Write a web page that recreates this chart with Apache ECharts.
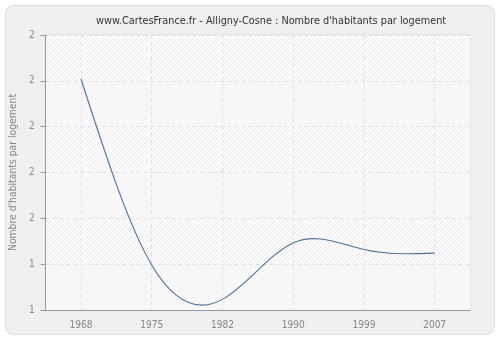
<!DOCTYPE html>
<html>
<head>
<meta charset="utf-8">
<script src="https://cdn.jsdelivr.net/npm/echarts@6/dist/echarts.min.js"></script>
<style>
html,body{margin:0;padding:0;background:#fff;}
#chart{width:500px;height:340px;}
</style>
</head>
<body>
<div id="chart"></div>
<script>
var titleText = "www.CartesFrance.fr - Alligny-Cosne : Nombre d'habitants par logement";
var yAxisName = "Nombre d'habitants par logement";
var years = ['1968', '1975', '1982', '1990', '1999', '2007'];
var values = [2.26, 1.245, 1.058, 1.366, 1.33, 1.31];
var yTickLabels = ['1', '1', '2', '2', '2', '2', '2'];
var yMin = 1, yMax = 2.5, yStep = 0.25;

var FONT = "'DejaVu Sans Condensed', 'DejaVu Sans', sans-serif";

// hatch pattern (diagonal "/")
var pc = document.createElement('canvas');
pc.width = 4; pc.height = 4;
var g = pc.getContext('2d');
g.fillStyle = '#fcfcfc';
g.fillRect(0, 0, 4, 4);
g.fillStyle = '#eaeaea';
for (var k = 0; k < 4; k++) { g.fillRect(k, 3 - k, 1, 1); }

// natural cubic spline in pixel space, drawn through library coordinates
function splineSegments(pts) {
  var n = pts.length, M = new Array(n).fill(0);
  if (n > 2) {
    var a = [], b = [], c = [], d = [];
    for (var i = 1; i < n - 1; i++) {
      var h0 = pts[i][0] - pts[i - 1][0], h1 = pts[i + 1][0] - pts[i][0];
      a.push(h0); b.push(2 * (h0 + h1)); c.push(h1);
      d.push(6 * ((pts[i + 1][1] - pts[i][1]) / h1 - (pts[i][1] - pts[i - 1][1]) / h0));
    }
    var m = b.length;
    for (var j = 1; j < m; j++) {
      var w = a[j] / b[j - 1];
      b[j] -= w * c[j - 1];
      d[j] -= w * d[j - 1];
    }
    var x = new Array(m);
    x[m - 1] = d[m - 1] / b[m - 1];
    for (var j2 = m - 2; j2 >= 0; j2--) x[j2] = (d[j2] - c[j2] * x[j2 + 1]) / b[j2];
    for (var q = 0; q < m; q++) M[q + 1] = x[q];
  }
  var segs = [];
  for (var s = 0; s < n - 1; s++) {
    var h = pts[s + 1][0] - pts[s][0];
    var sl = (pts[s + 1][1] - pts[s][1]) / h;
    var d0 = sl - h * (2 * M[s] + M[s + 1]) / 6;
    var d1 = sl + h * (M[s] + 2 * M[s + 1]) / 6;
    segs.push({
      x1: pts[s][0], y1: pts[s][1],
      cpx1: pts[s][0] + h / 3, cpy1: pts[s][1] + d0 * h / 3,
      cpx2: pts[s + 1][0] - h / 3, cpy2: pts[s + 1][1] - d1 * h / 3,
      x2: pts[s + 1][0], y2: pts[s + 1][1]
    });
  }
  return segs;
}

var chart = echarts.init(document.getElementById('chart'), null, {renderer: 'canvas'});
chart.setOption({
  animation: false,
  backgroundColor: '#ffffff',
  graphic: [{
    type: 'rect', z: -10, silent: true,
    shape: {x: 5.5, y: 5.5, width: 489, height: 329, r: 8},
    style: {fill: '#efefef', stroke: '#dcdcdc', lineWidth: 1}
  }],
  title: {
    text: titleText,
    left: 91, top: 11,
    textStyle: {fontFamily: FONT, fontSize: 10.8, fontWeight: 'normal', color: '#333'}
  },
  grid: {
    left: 40, right: 30, top: 35, bottom: 30,
    show: true,
    backgroundColor: '#f7f7f7',
    borderColor: '#dddddd', borderWidth: 1
  },
  xAxis: {
    type: 'category',
    data: years,
    boundaryGap: true,
    axisLine: {lineStyle: {color: '#999'}},
    axisTick: {alignWithLabel: true, length: 5, lineStyle: {color: '#999'}},
    axisLabel: {color: '#888', fontFamily: FONT, fontSize: 10, margin: 10, interval: 0},
    splitLine: {show: true, alignWithLabel: true, interval: 0, lineStyle: {color: '#e0e0e0', type: [4, 3]}}
  },
  yAxis: {
    type: 'value',
    min: yMin, max: yMax, interval: yStep,
    name: yAxisName,
    nameLocation: 'middle',
    nameGap: 27,
    nameTextStyle: {color: '#888', fontFamily: FONT, fontSize: 10.3},
    axisLine: {show: true, lineStyle: {color: '#999'}},
    axisTick: {show: true, length: 5, lineStyle: {color: '#999'}},
    axisLabel: {
      color: '#888', fontFamily: FONT, fontSize: 10, margin: 11,
      formatter: function (v) {
        var i = Math.round((v - yMin) / yStep);
        return yTickLabels[i] !== undefined ? yTickLabels[i] : '';
      }
    },
    splitLine: {show: true, lineStyle: {color: '#e0e0e0', type: [4, 3]}},
    splitArea: {show: true, areaStyle: {color: ['#f7f7f7', {image: pc, repeat: 'repeat'}]}}
  },
  series: [{
    type: 'custom',
    data: values.map(function (v, i) { return [i, v]; }),
    encode: {x: 0, y: 1},
    renderItem: function (params, api) {
      var i = params.dataIndex;
      if (i >= values.length - 1) return null;
      var pts = values.map(function (v, k) { return api.coord([k, v]); });
      var seg = splineSegments(pts)[i];
      return {
        type: 'bezierCurve',
        shape: seg,
        style: {stroke: '#4a72a8', lineWidth: 1.1, fill: null}
      };
    }
  }]
});
</script>
</body>
</html>
